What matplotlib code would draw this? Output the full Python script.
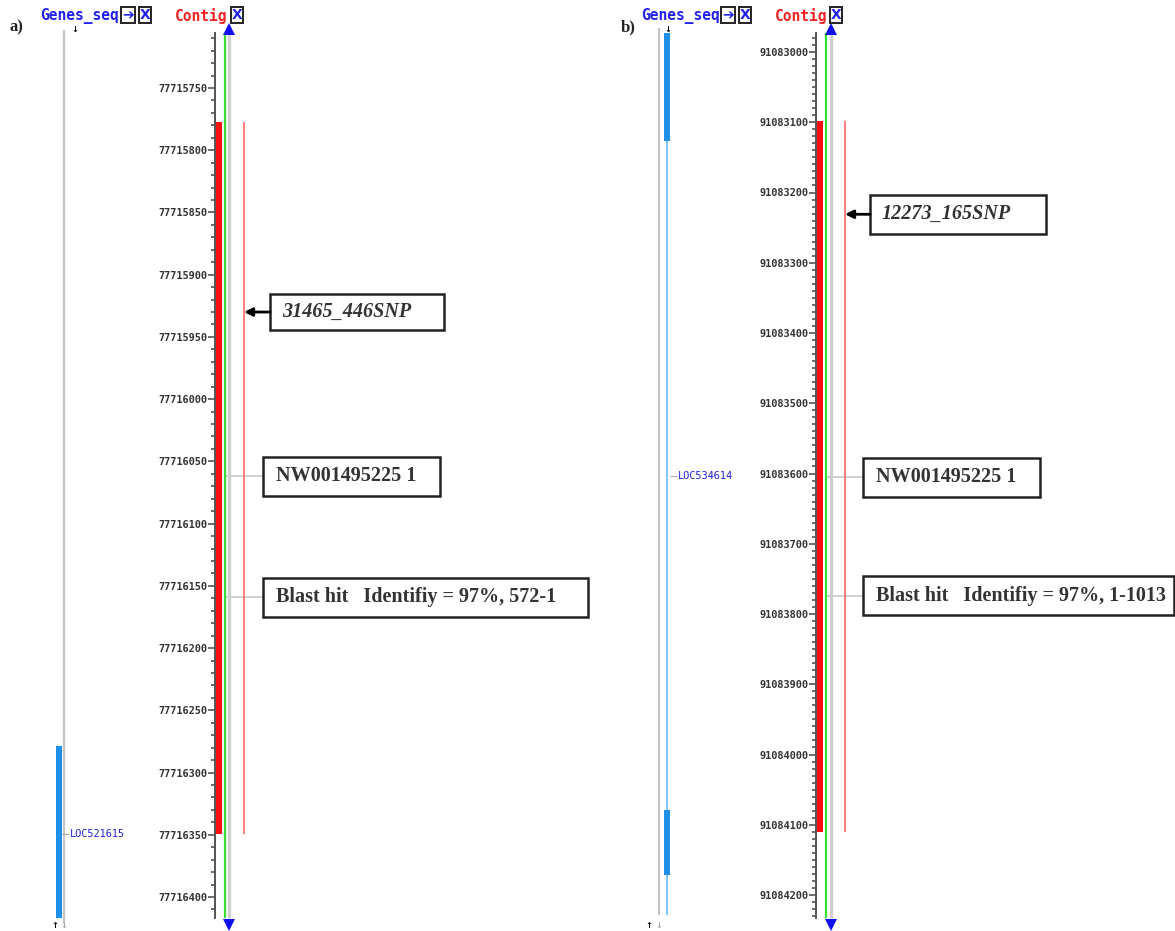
import matplotlib
matplotlib.use("Agg")
import matplotlib.pyplot as plt
from matplotlib.patches import Rectangle
from matplotlib.ticker import FixedLocator

W, H = 1175, 931

# ---------------- data (genomic coordinates, bp) ----------------
# panel a
contig_a = (77715706, 77716417)
hit_a = (77715777, 77716349)
snp_a = 77715930
snp_label_a = "31465_446SNP"
contig_label_pos_a = 77716062
contig_label_a = "NW001495225 1"
blast_label_pos_a = 77716159
blast_label_a = "Blast hit   Identifiy = 97%, 572-1"
gene_track_a = (77715703, 77716422)
gene_exons_a = [(77716279, 77716417)]
gene_name_a = "LOC521615"
gene_name_pos_a = 77716349
major_a, minor_a = 50, 10

# panel b
contig_b = (91082973, 91084233)
hit_b = (91083098, 91084111)
snp_b = 91083231
snp_label_b = "12273_165SNP"
contig_label_pos_b = 91083605
contig_label_b = "NW001495225 1"
blast_label_pos_b = 91083774
blast_label_b = "Blast hit   Identifiy = 97%, 1-1013"
gene_track_b = (91082966, 91084228)
gene_line_b = (91082976, 91084228)
gene_exons_b = [(91082973, 91083127), (91084079, 91084172)]
gene_name_b = "LOC534614"
gene_name_pos_b = 91083603
major_b, minor_b = 100, 10

# ---------------- layout ----------------
fig = plt.figure(figsize=(W / 100, H / 100), dpi=100)
fig.patch.set_facecolor("white")

SERIF = "Liberation Serif"
MONO = "DejaVu Sans Mono"


def fx(px):
    return px / W


def fy(px):
    return 1 - px / H


def panel(x0, x1, ref_bp, ref_px, scale, ruler_x, contig, hit, snp, snp_label,
          nw_pos, nw_label, bl_pos, bl_label, major, minor,
          gtrack_x, gtrack, gexon_x, gexons, gname, gname_pos, gline=None,
          box_x=None, snp_box=None, nw_box_w=177, bl_box_w=325):
    ax = fig.add_axes([fx(x0), 0, fx(x1 - x0), 1])
    ax.set_xlim(x0, x1)
    top = ref_bp - ref_px / scale
    bottom = ref_bp + (H - ref_px) / scale
    ax.set_ylim(bottom, top)
    ax.patch.set_alpha(0)
    for s in ("right", "top", "bottom"):
        ax.spines[s].set_visible(False)
    ax.spines["left"].set_position(("data", ruler_x))
    ax.spines["left"].set_bounds(contig[0], contig[1])
    ax.spines["left"].set_color("#555555")
    ax.spines["left"].set_linewidth(1.4)
    ax.set_xticks([])
    first = (contig[0] // major + 1) * major
    ticks = list(range(first, contig[1] + 1, major))
    ax.set_yticks(ticks)
    ax.set_yticklabels([str(t) for t in ticks], fontfamily=MONO, fontsize=7.4,
                       color="#333333", fontweight="bold")
    mfirst = (contig[0] // minor + 1) * minor
    minors = [t for t in range(mfirst, contig[1] + 1, minor) if t % major]
    ax.yaxis.set_minor_locator(FixedLocator(minors))
    ax.tick_params(axis="y", which="major", length=5, width=1.2, color="#555555", pad=0.5)
    ax.tick_params(axis="y", which="minor", length=3, width=1.2, color="#555555")

    def pxh(p):
        return p / scale

    # contig track
    ax.bar(ruler_x + 4, hit[1] - hit[0], bottom=hit[0], width=6, color="#ff1010", zorder=3)
    ax.vlines(ruler_x + 10, contig[0], contig[1], color="#33e033", lw=1.6, zorder=3)
    ax.vlines(ruler_x + 14.5, contig[0], contig[1], color="#cfcfcf", lw=2.4, zorder=2)
    ax.vlines(ruler_x + 29, hit[0], hit[1], color="#ff7070", lw=1.3, zorder=3)
    ax.plot([ruler_x + 14.5], [contig[0] - pxh(4)], marker="^", ms=8, color="#1010ee",
            clip_on=False, zorder=4, markeredgewidth=0)
    ax.plot([ruler_x + 14.5], [contig[1] + pxh(7)], marker="v", ms=8, color="#1010ee",
            clip_on=False, zorder=4, markeredgewidth=0)

    # SNP box + arrow
    bx0, bw, bh = snp_box
    ax.add_patch(Rectangle((bx0, snp - pxh(bh / 2)), bw, pxh(bh), fc="white",
                           ec="#222222", lw=1.8, zorder=4))
    ax.text(bx0 + 12, snp, snp_label, fontfamily=SERIF, fontsize=14.5, style="italic",
            fontweight="bold", color="#333333", va="center", ha="left", zorder=5)
    ax.annotate("", xy=(ruler_x + 29, snp), xytext=(bx0, snp),
                arrowprops=dict(arrowstyle="-|>", color="black", lw=2,
                                mutation_scale=12, shrinkA=0, shrinkB=0), zorder=5)

    # contig / blast labels
    for pos, lab, bw2 in ((nw_pos, nw_label, nw_box_w), (bl_pos, bl_label, bl_box_w)):
        ax.hlines(pos, ruler_x + 10, box_x, color="#c8c8c8", lw=1.2, zorder=1)
        ax.add_patch(Rectangle((box_x, pos - pxh(19.5)), bw2, pxh(39), fc="white",
                               ec="#222222", lw=1.8, zorder=4, clip_on=False))
        ax.text(box_x + 13, pos, lab, fontfamily=SERIF, fontsize=14.5,
                fontweight="bold", color="#333333", va="center", ha="left", zorder=5)

    # gene track
    ax.vlines(gtrack_x, gtrack[0], gtrack[1], color="#c6c6c6", lw=1.6, zorder=1)
    if gline is not None:
        ax.vlines(gexon_x, gline[0], gline[1], color="#7fc8f8", lw=1.5, zorder=2)
    for e0, e1 in gexons:
        ax.bar(gexon_x, e1 - e0, bottom=e0, width=6, color="#1e90e8", zorder=3)
    ax.hlines(gname_pos, gexon_x + 3, gexon_x + 10, color="#aaaaaa", lw=0.8)
    ax.text(gexon_x + 11, gname_pos, gname, fontfamily=MONO, fontsize=7.4,
            color="#2020dd", va="center", ha="left")
    return ax


axA = panel(0, 590, 77715750, 88, 1.2446, 215, contig_a, hit_a, snp_a, snp_label_a,
            contig_label_pos_a, contig_label_a, blast_label_pos_a, blast_label_a,
            major_a, minor_a, 64, gene_track_a, 59, gene_exons_a, gene_name_a,
            gene_name_pos_a, box_x=263, snp_box=(270, 174, 36), nw_box_w=177,
            bl_box_w=325)
axB = panel(590, 1175, 91083000, 52, 0.7025, 816, contig_b, hit_b, snp_b, snp_label_b,
            contig_label_pos_b, contig_label_b, blast_label_pos_b, blast_label_b,
            major_b, minor_b, 659, gene_track_b, 667, gene_exons_b, gene_name_b,
            gene_name_pos_b, gline=gene_line_b, box_x=863, snp_box=(870, 176, 39),
            nw_box_w=177, bl_box_w=311)

# ---------------- headers ----------------
def header(xg, xc, xi1, xi2, xi3, lab):
    fig.text(fx(xg), fy(16), "Genes_seq", fontfamily=MONO, fontweight="bold",
             fontsize=10.5, color="#2222ee", va="center", ha="left")
    fig.text(fx(xc), fy(16), "Contig", fontfamily=MONO, fontweight="bold",
             fontsize=10.5, color="#ee2222", va="center", ha="left")
    for xi, s in ((xi1, "\u2794"), (xi2, "X"), (xi3, "X")):
        fig.text(fx(xi), fy(15), s, fontfamily="DejaVu Sans", fontweight="bold",
                 fontsize=10, color="#2222ee", va="center", ha="center",
                 bbox=dict(boxstyle="square,pad=0.08", fc="white", ec="#222222", lw=1.4))
    fig.text(fx(lab[1]), fy(27), lab[0], fontfamily=SERIF, fontweight="bold",
             fontsize=12, color="#222222", va="center", ha="left")


header(40, 175, 128, 145, 237, ("a)", 9))
header(641, 775, 728, 745, 836, ("b)", 621))

# tiny strand arrows on the gene tracks
for x, y, s, c in ((75, 30, "\u2193", "black"), (55, 926, "\u2191", "black"),
                   (64, 926, "\u2193", "#aaaaaa"), (668, 29, "\u2193", "black"),
                   (649, 926, "\u2191", "black"), (659, 926, "\u2193", "#aaaaaa")):
    fig.text(fx(x), fy(y), s, fontsize=6, fontweight="bold", color=c,
             va="center", ha="center")

fig.savefig("out.png", dpi=100, facecolor="white")
